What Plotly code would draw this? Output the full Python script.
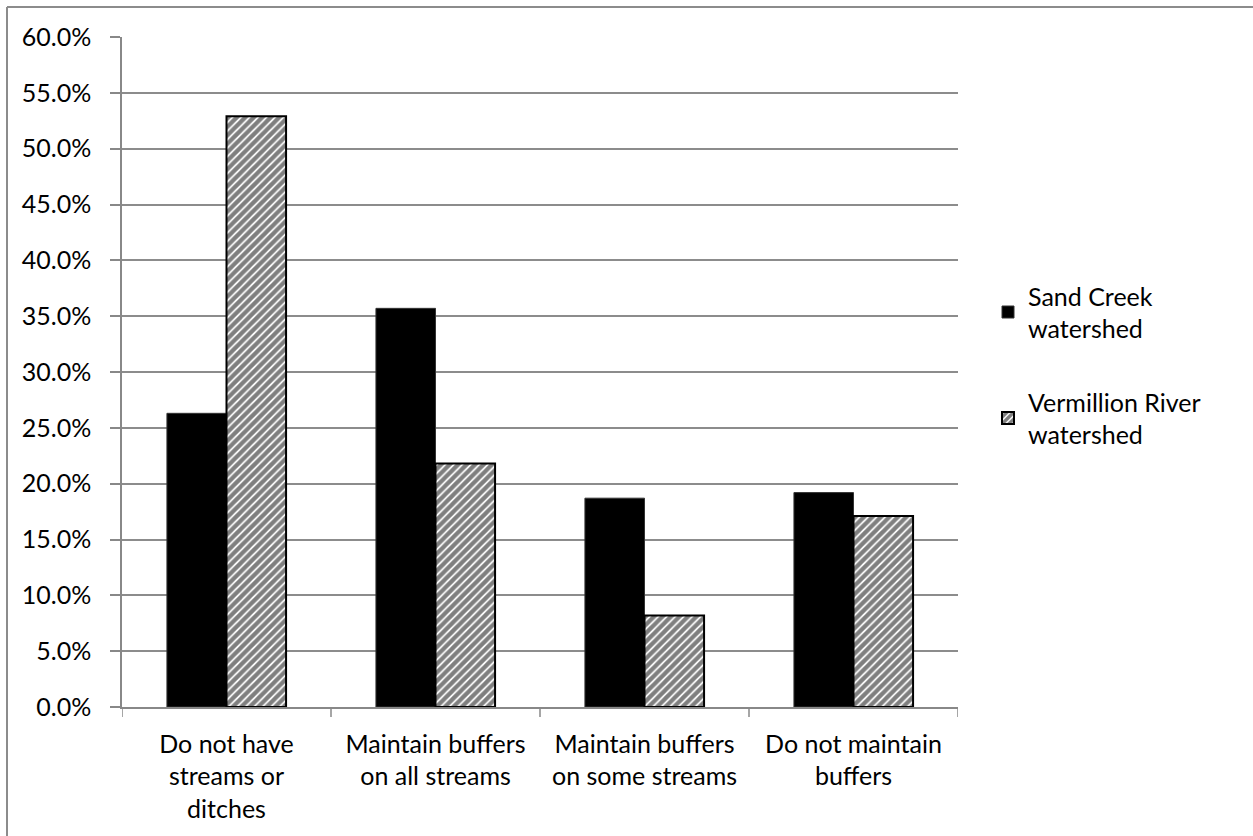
import plotly.graph_objects as go

categories = [
    "Do not have<br>streams or<br>ditches",
    "Maintain buffers<br>on all streams",
    "Maintain buffers<br>on some streams",
    "Do not maintain<br>buffers",
]
sand_creek = [26.3, 35.7, 18.7, 19.2]
vermillion = [52.9, 21.8, 8.2, 17.1]
y_ticks = [0, 5, 10, 15, 20, 25, 30, 35, 40, 45, 50, 55, 60]
y_tick_labels = [f"{v:.1f}%" for v in y_ticks]

W, H = 1253, 836
L, R, T, B = 122, 295, 37, 129
pw, ph = W - L - R, H - T - B

FONT = "Lato, 'Open Sans', sans-serif"
FS = 25

fig = go.Figure()
fig.add_trace(go.Bar(
    x=categories, y=sand_creek, name="Sand Creek<br>watershed",
    legendgroup="sand",
    marker=dict(color="black", line=dict(color="#333333", width=1)),
))
fig.add_trace(go.Bar(
    x=categories, y=vermillion, name="Vermillion River<br>watershed",
    legendgroup="vermillion",
    marker=dict(
        color="white",
        line=dict(color="black", width=2),
        pattern=dict(shape="/", fgcolor="black", bgcolor="white",
                     size=6, solidity=0.7, fillmode="overlay"),
    ),
))

# chart-area frame (top and left edges)
fig.add_shape(type="line", xref="paper", yref="paper",
              x0=(7 - L) / pw, x1=(W - L) / pw, y0=1 + (T - 7) / ph, y1=1 + (T - 7) / ph,
              line=dict(color="#8c8c8c", width=2))
fig.add_shape(type="line", xref="paper", yref="paper",
              x0=(7 - L) / pw, x1=(7 - L) / pw, y0=1 + (T - 7) / ph, y1=-B / ph,
              line=dict(color="#8c8c8c", width=2))

# category separator ticks below the x axis
for i in range(len(categories) + 1):
    fig.add_shape(type="line", xref="x", yref="paper",
                  x0=i - 0.5, x1=i - 0.5, y0=0, y1=-10 / ph,
                  line=dict(color="#888888", width=1.5))

fig.update_layout(
    width=W, height=H,
    margin=dict(l=L, r=R, t=T, b=B),
    paper_bgcolor="white", plot_bgcolor="white",
    barmode="group", bargap=0.43, bargroupgap=0,
    font=dict(family=FONT, size=FS, color="black"),
    showlegend=True,
    legend=dict(x=1 + 30 / pw, xanchor="left", y=(H - B - 365) / ph, yanchor="middle",
                font=dict(size=FS), tracegroupgap=38, itemwidth=30,
                bgcolor="rgba(0,0,0,0)"),
    xaxis=dict(showline=True, linecolor="#888888", linewidth=1.5,
               ticks="", showgrid=False, tickfont=dict(size=FS),
               ticklabelstandoff=14,
               range=[-0.5, 3.5], fixedrange=True),
    yaxis=dict(range=[0, 60], tickvals=y_ticks, ticktext=y_tick_labels,
               showgrid=True, gridcolor="#8c8c8c", gridwidth=1.5,
               showline=True, linecolor="#888888", linewidth=1.5,
               ticks="outside", ticklen=10, tickcolor="#888888", tickwidth=1.5,
               ticklabelstandoff=14,
               tickfont=dict(size=FS), zeroline=False, fixedrange=True),
)

fig.write_html("out.html")
